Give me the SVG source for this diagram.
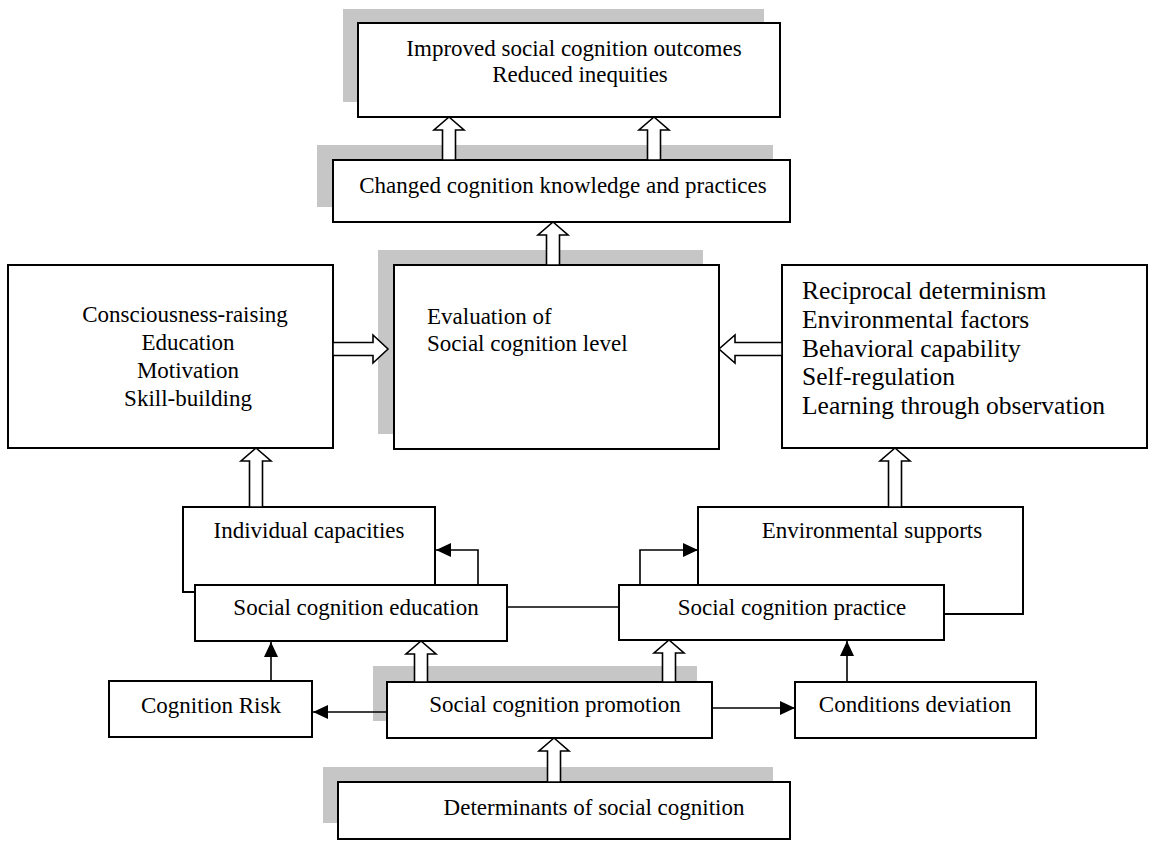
<svg xmlns="http://www.w3.org/2000/svg" width="1155" height="847" viewBox="0 0 1155 847">
<style>
.sh{fill:#c6c6c6;stroke:none}
.bx{fill:#fff;stroke:#000;stroke-width:2}
.t{font-family:"Liberation Serif","Times New Roman",serif;font-size:23px;fill:#000}
.tl{font-family:"Liberation Serif","Times New Roman",serif;font-size:25.5px;fill:#000}
.m{text-anchor:middle}
.ha{fill:#fff;stroke:#000;stroke-width:1.6;stroke-linejoin:miter}
.ln{fill:none;stroke:#000;stroke-width:1.6}
</style>
<defs>
<marker id="ah" viewBox="0 0 15 14" refX="15" refY="7" markerWidth="15" markerHeight="14" markerUnits="userSpaceOnUse" orient="auto">
<path d="M0,0 L15,7 L0,14 Z" fill="#000"/>
</marker>
</defs>

<g id="n-outcomes">
<rect class="sh" x="343" y="9" width="421" height="93"/>
<rect class="bx" x="358" y="23" width="422" height="94"/>
<text class="t m" x="574" y="56">Improved social cognition outcomes</text>
<text class="t m" x="580" y="82">Reduced inequities</text>
</g>

<g id="n-changed">
<rect class="sh" x="317" y="145" width="456" height="62"/>
<rect class="bx" x="333" y="160" width="457" height="62"/>
<text class="t m" x="563" y="193">Changed cognition knowledge and practices</text>
</g>

<g id="n-left">
<rect class="bx" x="8" y="265" width="325" height="183"/>
<text class="t m" x="185" y="322">Consciousness-raising</text>
<text class="t m" x="188" y="350">Education</text>
<text class="t m" x="188" y="378">Motivation</text>
<text class="t m" x="188" y="406">Skill-building</text>
</g>

<g id="n-evaluation">
<rect class="sh" x="378" y="250" width="325" height="184"/>
<rect class="bx" x="394" y="265" width="325" height="184"/>
<text class="t" x="427" y="324">Evaluation of</text>
<text class="t" x="427" y="351">Social cognition level</text>
</g>

<g id="n-right">
<rect class="bx" x="782" y="265" width="365" height="183"/>
<text class="tl" x="802" y="299">Reciprocal determinism</text>
<text class="tl" x="802" y="328">Environmental factors</text>
<text class="tl" x="802" y="357">Behavioral capability</text>
<text class="tl" x="802" y="385">Self-regulation</text>
<text class="tl" x="802" y="414">Learning through observation</text>
</g>

<g id="n-individual">
<rect class="bx" x="183" y="507" width="252" height="85"/>
<text class="t m" x="309" y="538">Individual capacities</text>
</g>

<g id="n-environmental">
<rect class="bx" x="698" y="507" width="325" height="107"/>
<text class="t m" x="872" y="538">Environmental supports</text>
</g>

<g id="n-education">
<rect class="bx" x="195" y="585" width="312" height="56"/>
<text class="t m" x="356" y="615">Social cognition education</text>
</g>

<g id="n-practice">
<rect class="bx" x="619" y="585" width="325" height="55"/>
<text class="t m" x="792" y="615">Social cognition practice</text>
</g>

<g id="n-risk">
<rect class="bx" x="109" y="681" width="203" height="56"/>
<text class="t m" x="211" y="713">Cognition Risk</text>
</g>

<g id="n-promotion">
<rect class="sh" x="373" y="666" width="324" height="55"/>
<rect class="bx" x="387" y="682" width="325" height="56"/>
<text class="t m" x="555" y="712">Social cognition promotion</text>
</g>

<g id="n-conditions">
<rect class="bx" x="795" y="682" width="241" height="56"/>
<text class="t m" x="915" y="712">Conditions deviation</text>
</g>

<g id="n-determinants">
<rect class="sh" x="323" y="767" width="450" height="56"/>
<rect class="bx" x="338" y="782" width="452" height="57"/>
<text class="t m" x="594" y="815">Determinants of social cognition</text>
</g>

<g id="connectors">
<!-- hollow up arrows -->
<polygon class="ha" points="442.5,160 442.5,130 434,130 449,117 464,130 455.5,130 455.5,160"/>
<polygon class="ha" points="647.5,160 647.5,130 639,130 654,117 669,130 660.5,130 660.5,160"/>
<polygon class="ha" points="546.5,265 546.5,235 538,235 553,222 568,235 559.5,235 559.5,265"/>
<polygon class="ha" points="249.5,507 249.5,461 241,461 256,448 271,461 262.5,461 262.5,507"/>
<polygon class="ha" points="888.5,507 888.5,461 880,461 895,448 910,461 901.5,461 901.5,507"/>
<polygon class="ha" points="414.5,682 414.5,654 406,654 421,641 436,654 427.5,654 427.5,682"/>
<polygon class="ha" points="662.5,682 662.5,653 654,653 669,640 684,653 675.5,653 675.5,682"/>
<polygon class="ha" points="547.5,782 547.5,751 539,751 554,738 569,751 560.5,751 560.5,782"/>
<!-- hollow horizontal arrows -->
<polygon class="ha" points="333,342.5 373,342.5 373,335 388,349 373,363 373,355.5 333,355.5"/>
<polygon class="ha" points="782,342.5 735,342.5 735,335 719,349 735,363 735,355.5 782,355.5"/>
<!-- plain connectors -->
<line class="ln" x1="507" y1="607" x2="619" y2="607"/>
<polyline class="ln" points="478,585 478,550 436,550" marker-end="url(#ah)"/>
<polyline class="ln" points="640,585 640,550 698,550" marker-end="url(#ah)"/>
<line class="ln" x1="271" y1="681" x2="271" y2="642" marker-end="url(#ah)"/>
<line class="ln" x1="847" y1="682" x2="847" y2="641" marker-end="url(#ah)"/>
<line class="ln" x1="387" y1="712" x2="313" y2="712" marker-end="url(#ah)"/>
<line class="ln" x1="712" y1="708" x2="795" y2="708" marker-end="url(#ah)"/>
</g>
</svg>
